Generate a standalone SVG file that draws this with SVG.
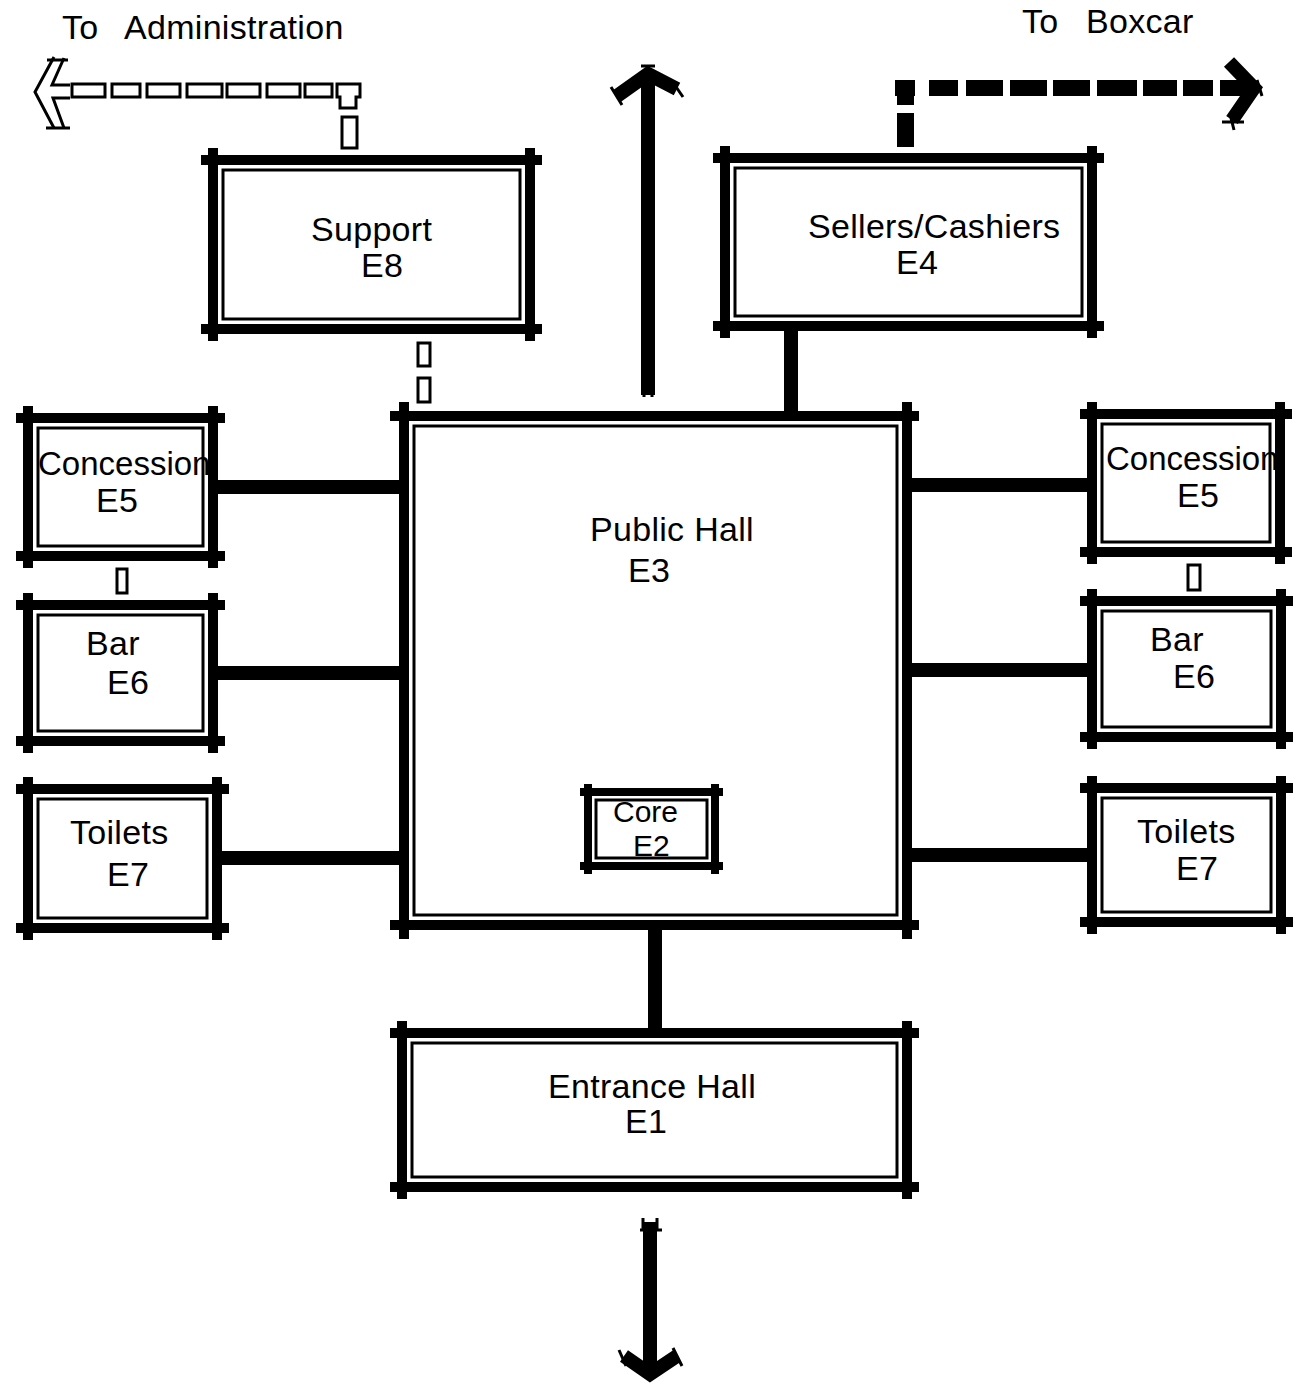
<svg xmlns="http://www.w3.org/2000/svg" width="1295" height="1395" viewBox="0 0 1295 1395">
<style>
text{font-family:"Liberation Sans",Arial,sans-serif;font-size:34px;letter-spacing:0.3px;fill:#000}
text.c{font-size:33px;letter-spacing:0}
text.core{font-size:30px;letter-spacing:0}
.wall{stroke:#000;stroke-width:10;fill:none}
.wall2{stroke:#000;stroke-width:8;fill:none}
.inner{stroke:#000;stroke-width:3;fill:none}
.conn{stroke:#000;stroke-width:14;fill:none}
.thin{stroke:#000;stroke-width:3;fill:none}
.tick{stroke:#000;stroke-width:3;fill:none}
</style>
<rect width="1295" height="1395" fill="#fff"/>
<g id="labels">
<text x="62" y="39">To</text><text x="124" y="39">Administration</text>
<text x="1022" y="33">To</text><text x="1086" y="33">Boxcar</text>
</g>
<g id="connectors">
<path class="conn" d="M213 487H404M213 673H404M217 858H404M907 485H1092M907 670H1092M907 855H1092"/>
<path class="conn" stroke-width="16" d="M791 326V416M655 925V1033"/>
<!-- up arrow -->
<path class="conn" d="M648 395V76"/>
<path class="conn" stroke-linejoin="miter" d="M617 96L648 74L677 89"/>
<path class="tick" d="M611 87L622 105M672 81L683 97M641 66H655M642 390H655M644 386V397M652 386V397"/>
<!-- down arrow -->
<path class="conn" d="M650 1222V1372"/>
<path class="conn" stroke-linejoin="miter" d="M624 1356L650 1374L677 1356"/>
<path class="tick" d="M643 1218V1230M657 1218V1230M640 1230H662M619 1350L626 1366M673 1348L682 1366"/>
<!-- E8 to E3 dashed -->
<rect class="thin" x="418" y="343" width="12" height="23"/>
<rect class="thin" x="418" y="378" width="12" height="24"/>
<!-- E5 to E6 dashed -->
<rect class="thin" x="117" y="569" width="10" height="24"/>
<rect class="thin" x="1188" y="565" width="12" height="25"/>
<!-- To Administration -->
<g class="thin">
<rect x="72" y="84" width="33" height="13"/><rect x="112" y="84" width="28" height="13"/><rect x="147" y="84" width="33" height="13"/><rect x="187" y="84" width="35" height="13"/><rect x="227" y="84" width="33" height="13"/><rect x="267" y="84" width="33" height="13"/><rect x="305" y="84" width="27" height="13"/>
<path d="M337 84H360V97H356V108H340V97H337Z"/>
<rect x="342" y="117" width="15" height="31"/>
<path d="M54 57L35 92L54 128"/>
<path d="M64 58L52 85H70M70 98H53L64 128"/>
<path d="M47 60H68M46 128H70"/>
</g>
<!-- To Boxcar -->
<g fill="#000">
<rect x="895" y="80" width="20" height="16"/><rect x="897" y="80" width="17" height="25"/><rect x="897" y="113" width="17" height="34"/>
<rect x="929" y="80" width="29" height="16"/><rect x="966" y="80" width="37" height="16"/><rect x="1010" y="80" width="37" height="16"/><rect x="1053" y="80" width="37" height="16"/><rect x="1097" y="80" width="40" height="16"/><rect x="1143" y="80" width="34" height="16"/><rect x="1183" y="80" width="30" height="16"/><rect x="1220" y="80" width="30" height="16"/>
</g>
<path class="conn" stroke-width="16" stroke-linejoin="miter" d="M1229 62L1254 88L1232 120"/>
<path class="tick" d="M1222 122H1244M1230 114L1234 130M1257 80L1262 96"/>
</g>
<g id="E8">
<text x="311" y="241">Support</text><text x="361" y="277">E8</text>
<path class="wall" d="M201 160H542M201 329H542M213 148V341M530 148V341"/>
<rect class="inner" x="223" y="170" width="297" height="149"/>
</g>
<g id="E4">
<text x="808" y="238">Sellers/Cashiers</text><text x="896" y="274">E4</text>
<path class="wall" d="M713 158H1104M713 326H1104M725 146V338M1092 146V338"/>
<rect class="inner" x="735" y="168" width="347" height="148"/>
</g>
<g id="E3">
<text x="590" y="541">Public Hall</text><text x="628" y="582">E3</text>
<path class="wall" d="M390 416H919M390 925H919M404 402V939M907 402V939"/>
<rect class="inner" x="414" y="426" width="483" height="489"/>
</g>
<g id="E2">
<text class="core" x="613" y="822">Core</text><text class="core" x="633" y="856">E2</text>
<path class="wall2" d="M580 792H723M580 866H723M588 784V874M715 784V874"/>
<rect class="inner" x="596" y="800" width="111" height="58"/>
</g>
<g id="E1">
<text x="548" y="1098">Entrance Hall</text><text x="625" y="1133">E1</text>
<path class="wall" d="M390 1033H919M390 1187H919M402 1021V1199M907 1021V1199"/>
<rect class="inner" x="412" y="1043" width="485" height="134"/>
</g>
<g id="E5-left">
<text class="c" x="38" y="475">Concession</text><text x="96" y="512">E5</text>
<path class="wall" d="M16 418H225M16 556H225M28 406V568M213 406V568"/>
<rect class="inner" x="38" y="428" width="165" height="118"/>
</g>
<g id="E6-left">
<text x="86" y="655">Bar</text><text x="107" y="694">E6</text>
<path class="wall" d="M16 605H225M16 741H225M28 593V753M213 593V753"/>
<rect class="inner" x="38" y="615" width="165" height="116"/>
</g>
<g id="E7-left">
<text x="70" y="844">Toilets</text><text x="107" y="886">E7</text>
<path class="wall" d="M16 789H229M16 928H229M28 777V940M217 777V940"/>
<rect class="inner" x="38" y="799" width="169" height="119"/>
</g>
<g id="E5-right">
<text class="c" x="1106" y="470">Concession</text><text x="1177" y="507">E5</text>
<path class="wall" d="M1080 414H1292M1080 552H1292M1092 402V564M1280 402V564"/>
<rect class="inner" x="1102" y="424" width="168" height="118"/>
</g>
<g id="E6-right">
<text x="1150" y="651">Bar</text><text x="1173" y="688">E6</text>
<path class="wall" d="M1080 601H1293M1080 737H1293M1092 589V749M1281 589V749"/>
<rect class="inner" x="1102" y="611" width="169" height="116"/>
</g>
<g id="E7-right">
<text x="1137" y="843">Toilets</text><text x="1176" y="880">E7</text>
<path class="wall" d="M1080 788H1293M1080 922H1293M1092 776V934M1281 776V934"/>
<rect class="inner" x="1102" y="798" width="169" height="114"/>
</g>
</svg>
